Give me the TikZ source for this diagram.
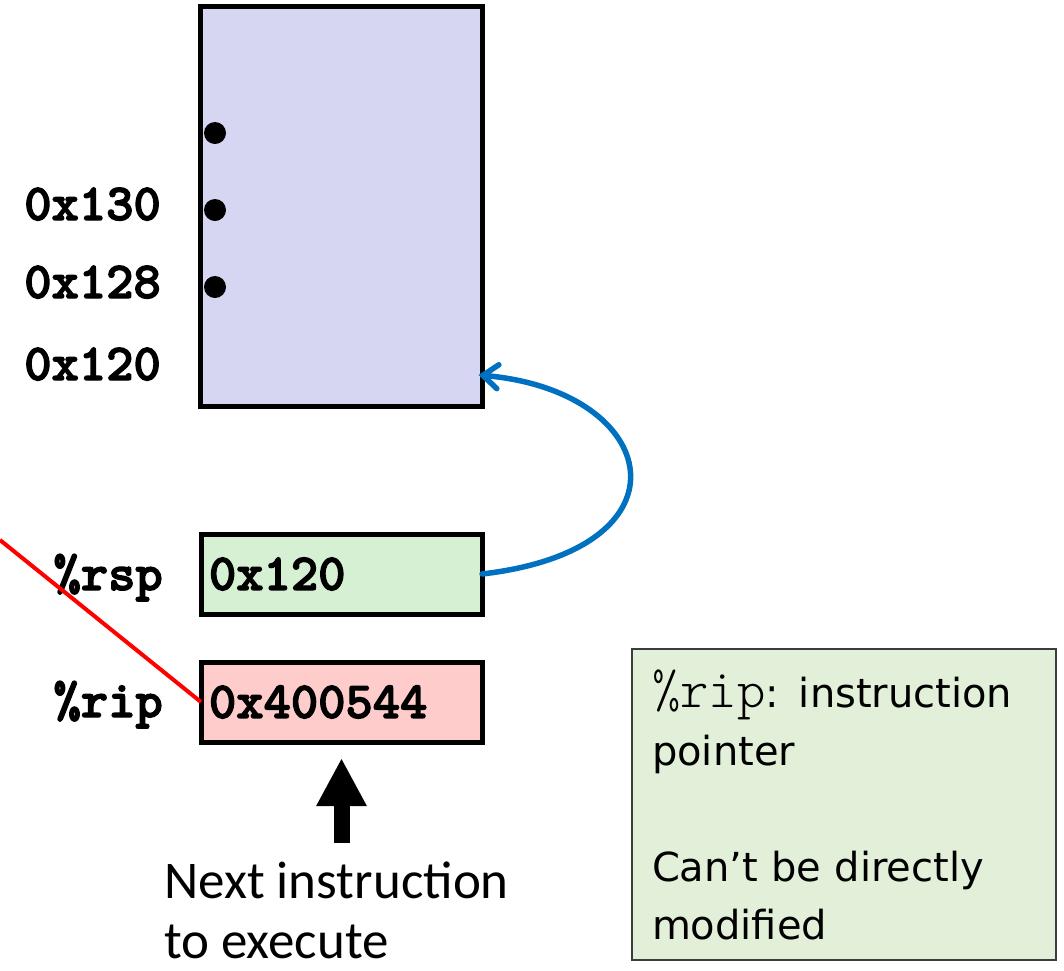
\documentclass[tikz,border=0pt]{standalone}
\usepackage{fontspec}
\usetikzlibrary{arrows.meta,calc}

\newfontfamily\notefont{DejaVu Sans}
\newfontfamily\calloutfont{Carlito}
\newfontfamily\codeboldfont{lmmonolt10-bold}[Extension=.otf, FakeBold=2.5]
\newfontfamily\codelightfont{lmmonolt10-regular}[Extension=.otf]
\newcommand\codebold{\codeboldfont\fontsize{52}{60}\selectfont}
\newcommand\codelight{\codelightfont\fontsize{54}{58}\selectfont}

\definecolor{stackfill}{RGB}{214,214,242}
\definecolor{rspfill}{RGB}{213,240,210}
\definecolor{ripfill}{RGB}{255,204,204}
\definecolor{notefill}{RGB}{226,239,217}
\definecolor{noteline}{RGB}{60,60,60}
\definecolor{ptrblue}{RGB}{0,112,192}
\definecolor{pcred}{RGB}{255,0,0}

\tikzset{
  memblock/.style={draw=black, line width=5pt, inner sep=0, outer sep=0},
  regbox/.style={memblock, minimum width=281, minimum height=80,
    text width=265, inner xsep=8, align=left, font=\codebold},
  addr/.style={anchor=base east, inner sep=0, font=\codebold},
  stackdot/.style={circle, fill=black, minimum size=22, inner sep=0},
  ptr/.style={draw=ptrblue, line width=5.5pt, line cap=round,
    -{Straight Barb[length=15pt, width=24pt, line cap=round]}},
  pcline/.style={draw=pcred, line width=4pt},
  bigarrow/.style={line width=16pt, -{Triangle[length=48pt, width=47pt]}},
  notebox/.style={draw=noteline, fill=notefill, line width=1.8pt,
    minimum width=424, minimum height=311, text width=384, inner xsep=20,
    align=left, font=\notefont\fontsize{40}{58}\selectfont},
}

\begin{document}
\begin{tikzpicture}[x=1pt, y=-1pt]
  \useasboundingbox (0,0) rectangle (1064,970);

  % stack memory
  \node[memblock, fill=stackfill, minimum width=282, minimum height=400]
    (stack) at (341.5,206) {};
  \node[stackdot] (d1) at (215,133) {};
  \node[stackdot] (d2) at (215,210) {};
  \node[stackdot] (d3) at (215,287) {};

  \node[addr] (a130) at (161,220) {0x130};
  \node[addr] (a128) at (161,298) {0x128};
  \node[addr] (a120) at (161,380) {0x120};

  % registers
  \node[regbox, fill=rspfill] (rsp) at (341.5,574) {0x120};
  \node[regbox, fill=ripfill] (rip) at (341.5,702) {0x400544};
  \node[addr] (rsplbl) at (163,590) {\%rsp};
  \node[addr] (riplbl) at (163,717) {\%rip};

  % %rsp points at the top of the stack
  \coordinate (top) at ($(stack.south east)+(-4,-31)$);
  \draw[ptr] (rsp.east) .. controls +(215,-25) and +(183,16) .. (top);

  % line leading off to the left
  \coordinate (offleft) at (0,540);
  \draw[pcline] (rip.west) -- (offleft);

  % next instruction callout
  \node[anchor=base west, align=left, inner sep=0,
    font=\calloutfont\fontsize{53}{60}\selectfont] (nextlbl) at (164,958)
    {Next instruction\\to execute};
  \draw[bigarrow] ($(rip.south)+(0,101)$) -- ($(rip.south)+(0,16)$);

  % note
  \node[notebox] (note) at (844,804.5)
    {{\codelight\%rip}: instruction\\pointer\\[58pt]Can’t be directly\\modified};
\end{tikzpicture}
\end{document}
